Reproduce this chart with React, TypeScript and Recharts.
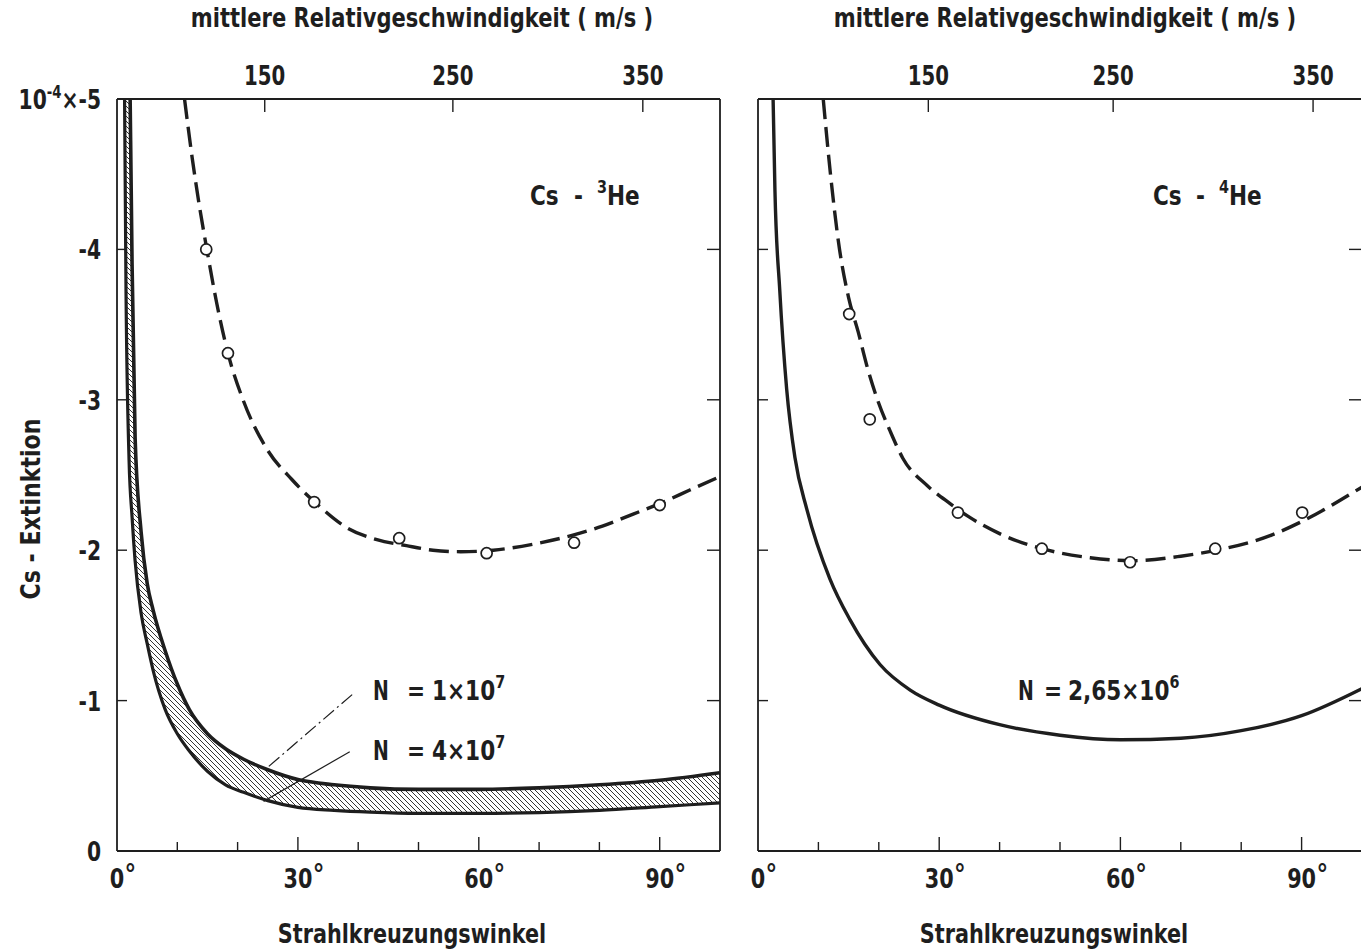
import { ComposedChart, Line, Area, XAxis, YAxis, ReferenceLine } from 'recharts'

const FONT = "'DejaVu Sans', sans-serif"
const INK = '#1e1e1e'

// Strahlkreuzungswinkel in degrees, Extinktion in units of 1e-4

// Cs - 3He: calculated band between N = 1e7 and N = 4e7
const bandAngle = [1.2, 1.5, 2, 2.5, 3, 4, 5, 6, 8, 10, 12, 15, 18, 21, 25, 30, 36, 42, 50, 60, 70, 80, 90, 100]
const he3N1e7 = [-8.0, -6.6, -5.6, -3.9, -2.75, -2.12, -1.78, -1.6, -1.33, -1.11, -0.94, -0.78, -0.68, -0.61, -0.54, -0.475, -0.44, -0.42, -0.41, -0.41, -0.42, -0.44, -0.47, -0.52]
const he3N4e7 = [-5.3, -3.7, -2.6, -2.22, -1.93, -1.58, -1.38, -1.2, -0.94, -0.78, -0.665, -0.53, -0.44, -0.39, -0.335, -0.29, -0.27, -0.258, -0.25, -0.25, -0.255, -0.27, -0.295, -0.32]

// Cs - 3He: fitted curve and measurements
const he3FitAngle = [11.2, 12.5, 13.7, 14.9, 16.5, 18.4, 20.9, 24.9, 29.0, 32.8, 38.1, 43.1, 48, 52.4, 57, 62.4, 69, 75.6, 80.5, 85.6, 90, 95, 100]
const he3Fit = [-5.0, -4.6, -4.28, -4.0, -3.65, -3.31, -3.0, -2.67, -2.47, -2.32, -2.15, -2.07, -2.03, -2.0, -1.99, -2.0, -2.04, -2.1, -2.16, -2.24, -2.31, -2.4, -2.49]
const he3PointAngle = [14.8, 18.4, 32.7, 46.8, 61.3, 75.8, 90.0]
const he3Point = [-4.0, -3.31, -2.32, -2.08, -1.98, -2.05, -2.3]

// Cs - 4He: calculated curve (N = 2.65e6), fitted curve and measurements
const he4CalcAngle = [2.5, 2.8, 3.6, 4.75, 6.1, 8.1, 11.9, 15.2, 20.2, 25.2, 30, 40, 50, 60, 70, 80, 90, 100]
const he4Calc = [-5.0, -4.4, -3.73, -3.07, -2.62, -2.27, -1.81, -1.54, -1.24, -1.07, -0.97, -0.84, -0.77, -0.74, -0.75, -0.8, -0.9, -1.08]
const he4FitAngle = [10.8, 12.0, 13.5, 15.0, 16.6, 18.0, 19.7, 21.9, 24.0, 28.0, 31.8, 35, 40, 47, 55, 62, 70, 76, 85, 90, 100]
const he4Fit = [-5.0, -4.5, -4.0, -3.68, -3.45, -3.23, -3.01, -2.79, -2.61, -2.43, -2.31, -2.22, -2.11, -2.01, -1.95, -1.93, -1.96, -2.0, -2.1, -2.19, -2.42]
const he4PointAngle = [15.1, 18.5, 33.1, 47.0, 61.6, 75.7, 90.1]
const he4Point = [-3.57, -2.87, -2.25, -2.01, -1.92, -2.01, -2.25]

const angleTicks = [0, 10, 20, 30, 40, 50, 60, 70, 80, 90]
const extTicks = [-5, -4, -3, -2, -1, 0]

// mean relative speed (m/s) on the top scale, and the crossing angle each one sits at
const speedLabels = [150, 250, 350]
const he3SpeedAngle = [24.5, 55.7, 87.2]
const he4SpeedAngle = [28.2, 58.8, 91.9]

// leader lines from the N labels to the band edges
const leaderN1e7 = [{ x: 39.0, y: -1.04 }, { x: 24.8, y: -0.55 }]
const leaderN4e7 = [{ x: 38.6, y: -0.66 }, { x: 24.3, y: -0.33 }]

const pts = (xs: number[], ys: number[]) => xs.map((a, i) => ({ a, v: ys[i] }))
const band = bandAngle.map((a, i) => ({ a, n1: he3N1e7[i], n4: he3N4e7[i] }))

const txt = { fontFamily: FONT, fontWeight: 700, fill: INK }

// condensed bold lettering: DejaVu squeezed horizontally
function NText({ x, y, sx = 0.8, size = 27, anchor = 'start', rotate = 0, children }: any) {
  return (
    <text
      transform={`translate(${x} ${y}) rotate(${rotate}) scale(${sx} 1)`}
      textAnchor={anchor}
      fontSize={size}
      {...txt}
    >
      {children}
    </text>
  )
}

function AngleTick({ x, y, payload }: any) {
  const v = payload.value as number
  const major = v % 30 === 0
  const half = String(v).length * 7.4
  return (
    <g>
      {v > 0 && <line x1={x} x2={x} y1={y} y2={y - (major ? 14 : 9)} stroke={INK} strokeWidth={1.4} />}
      {major && (
        <>
          <NText x={x} y={y + 37} size={26} sx={0.8} anchor="middle">{v}</NText>
          <NText x={x + half} y={y + 32} size={26} sx={0.9}>°</NText>
        </>
      )}
    </g>
  )
}

function SpeedTick({ x, y, payload, labels }: any) {
  const i = payload.index ?? 0
  return (
    <g>
      <line x1={x} x2={x} y1={y} y2={y + 13} stroke={INK} strokeWidth={1.4} />
      <NText x={x} y={y - 14} size={26} sx={0.76} anchor="middle">{labels[i]}</NText>
    </g>
  )
}

function ExtTickLeft({ x, y, payload, labels }: any) {
  const v = payload.value as number
  const inner = v < 0 && v > -5
  return (
    <g>
      {inner && <line x1={x} x2={x + 10} y1={y} y2={y} stroke={INK} strokeWidth={1.4} />}
      {labels && (
        <NText x={x - 16} y={y + 10} size={26} sx={0.78} anchor="end">
          {v === -5 ? (
            <>
              10<tspan dy={-11} fontSize={17}>-4</tspan>
              <tspan dy={11}>×-5</tspan>
            </>
          ) : (
            String(v)
          )}
        </NText>
      )}
    </g>
  )
}

function ExtTickRight({ x, y, payload }: any) {
  const v = payload.value as number
  if (!(v < 0 && v > -5)) return <g />
  return <line x1={x} x2={x - 13} y1={y} y2={y} stroke={INK} strokeWidth={1.4} />
}

// four-sided frame: angle below, relative speed on top, extinction left, bare ticks right
function frame(speedAngle: number[], labels: boolean) {
  const axisLine = { stroke: INK, strokeWidth: 1.8 }
  return [
    <XAxis
      key="a"
      xAxisId="a"
      dataKey="a"
      type="number"
      domain={[0, 100]}
      allowDataOverflow
      ticks={angleTicks}
      interval={0}
      height={1}
      tickSize={0}
      tickMargin={0}
      tickLine={false}
      axisLine={axisLine}
      tick={<AngleTick />}
    />,
    <XAxis
      key="v"
      xAxisId="v"
      dataKey="a"
      orientation="top"
      type="number"
      domain={[0, 100]}
      allowDataOverflow
      ticks={speedAngle}
      interval={0}
      height={1}
      tickSize={0}
      tickMargin={0}
      tickLine={false}
      axisLine={axisLine}
      tick={<SpeedTick labels={speedLabels} />}
    />,
    <YAxis
      key="y"
      yAxisId="y"
      type="number"
      domain={[-5, 0]}
      reversed
      allowDataOverflow
      ticks={extTicks}
      interval={0}
      width={1}
      tickSize={0}
      tickMargin={0}
      tickLine={false}
      axisLine={axisLine}
      tick={<ExtTickLeft labels={labels} />}
    />,
    <YAxis
      key="yr"
      yAxisId="yr"
      orientation="right"
      type="number"
      domain={[-5, 0]}
      reversed
      allowDataOverflow
      ticks={extTicks}
      interval={0}
      width={1}
      tickSize={0}
      tickMargin={0}
      tickLine={false}
      axisLine={axisLine}
      tick={<ExtTickRight />}
    />,
  ]
}

const circle = { r: 5.5, fill: '#fff', stroke: INK, strokeWidth: 1.7 }

function He3Panel() {
  return (
    <ComposedChart width={740} height={952} data={band} margin={{ top: 98, right: 19, bottom: 100, left: 116 }}>
      {frame(he3SpeedAngle, true)}
      <Area
        xAxisId="a"
        yAxisId="y"
        type="monotone"
        dataKey={(d: any) => [d.n4, d.n1]}
        fill="url(#hatch)"
        fillOpacity={1}
        stroke="none"
        isAnimationActive={false}
      />
      <Line xAxisId="a" yAxisId="y" type="monotone" dataKey="n1" stroke={INK} strokeWidth={3.6} dot={false} activeDot={false} isAnimationActive={false} />
      <Line xAxisId="a" yAxisId="y" type="monotone" dataKey="n4" stroke={INK} strokeWidth={3.2} dot={false} activeDot={false} isAnimationActive={false} />
      <Line
        xAxisId="a"
        yAxisId="y"
        data={pts(he3FitAngle, he3Fit)}
        type="monotone"
        dataKey="v"
        stroke={INK}
        strokeWidth={3.4}
        strokeDasharray="20 8"
        dot={false}
        activeDot={false}
        isAnimationActive={false}
      />
      <Line
        xAxisId="a"
        yAxisId="y"
        data={pts(he3PointAngle, he3Point)}
        dataKey="v"
        stroke="none"
        strokeWidth={0}
        dot={circle}
        activeDot={false}
        isAnimationActive={false}
      />
      <ReferenceLine xAxisId="a" yAxisId="y" segment={leaderN1e7} stroke={INK} strokeWidth={1.2} strokeDasharray="14 4 2 4" ifOverflow="visible" />
      <ReferenceLine xAxisId="a" yAxisId="y" segment={leaderN4e7} stroke={INK} strokeWidth={1.2} ifOverflow="visible" />
    </ComposedChart>
  )
}

function He4Panel() {
  return (
    <ComposedChart width={630} height={952} margin={{ top: 98, right: 7, bottom: 100, left: 17 }}>
      {frame(he4SpeedAngle, false)}
      <Line
        xAxisId="a"
        yAxisId="y"
        data={pts(he4CalcAngle, he4Calc)}
        type="monotone"
        dataKey="v"
        stroke={INK}
        strokeWidth={3.4}
        dot={false}
        activeDot={false}
        isAnimationActive={false}
      />
      <Line
        xAxisId="a"
        yAxisId="y"
        data={pts(he4FitAngle, he4Fit)}
        type="monotone"
        dataKey="v"
        stroke={INK}
        strokeWidth={3.4}
        strokeDasharray="20 8"
        dot={false}
        activeDot={false}
        isAnimationActive={false}
      />
      <Line
        xAxisId="a"
        yAxisId="y"
        data={pts(he4PointAngle, he4Point)}
        dataKey="v"
        stroke="none"
        strokeWidth={0}
        dot={circle}
        activeDot={false}
        isAnimationActive={false}
      />
    </ComposedChart>
  )
}

function Sup({ x, y, base, sup, tail = '', sx = 0.8 }: any) {
  return (
    <NText x={x} y={y} sx={sx}>
      {base}
      <tspan dy={-12} fontSize={18}>{sup}</tspan>
      <tspan dy={12}>{tail}</tspan>
    </NText>
  )
}

export default function App() {
  return (
    <div style={{ position: 'absolute', left: 0, top: 0, width: 1361, height: 952, overflow: 'hidden', background: '#fff' }}>
      <div style={{ position: 'absolute', left: 0, top: 0 }}>
        <He3Panel />
      </div>
      <div style={{ position: 'absolute', left: 740, top: 0 }}>
        <He4Panel />
      </div>
      <svg width={1361} height={952} style={{ position: 'absolute', left: 0, top: 0, pointerEvents: 'none' }}>
        <defs>
          <pattern id="hatch" patternUnits="userSpaceOnUse" width={5} height={5}>
            <path d="M-1,-1 L6,6 M-1,4 L1,6 M4,-1 L6,1" stroke={INK} strokeWidth={0.9} />
          </pattern>
        </defs>

        <NText x={422} y={27} sx={0.78} anchor="middle">mittlere Relativgeschwindigkeit ( m/s )</NText>
        <NText x={1065} y={27} sx={0.78} anchor="middle">mittlere Relativgeschwindigkeit ( m/s )</NText>
        <NText x={412} y={943} sx={0.77} anchor="middle">Strahlkreuzungswinkel</NText>
        <NText x={1054} y={943} sx={0.77} anchor="middle">Strahlkreuzungswinkel</NText>
        <NText x={40} y={509} sx={0.82} rotate={-90} anchor="middle">Cs - Extinktion</NText>

        <NText x={530} y={205}>Cs</NText>
        <NText x={574} y={205}>-</NText>
        <Sup x={597} y={205} base="" sup="3" tail="He" />
        <NText x={1153} y={205}>Cs</NText>
        <NText x={1196} y={205}>-</NText>
        <Sup x={1219} y={205} base="" sup="4" tail="He" />

        <NText x={373} y={700} sx={0.7}>N</NText>
        <NText x={407} y={700}>=</NText>
        <Sup x={432} y={700} base="1×10" sup="7" />
        <NText x={373} y={760} sx={0.7}>N</NText>
        <NText x={407} y={760}>=</NText>
        <Sup x={432} y={760} base="4×10" sup="7" />

        <NText x={1018} y={700} sx={0.7}>N</NText>
        <NText x={1044} y={700}>=</NText>
        <Sup x={1068} y={700} base="2,65×10" sup="6" />
      </svg>
    </div>
  )
}
